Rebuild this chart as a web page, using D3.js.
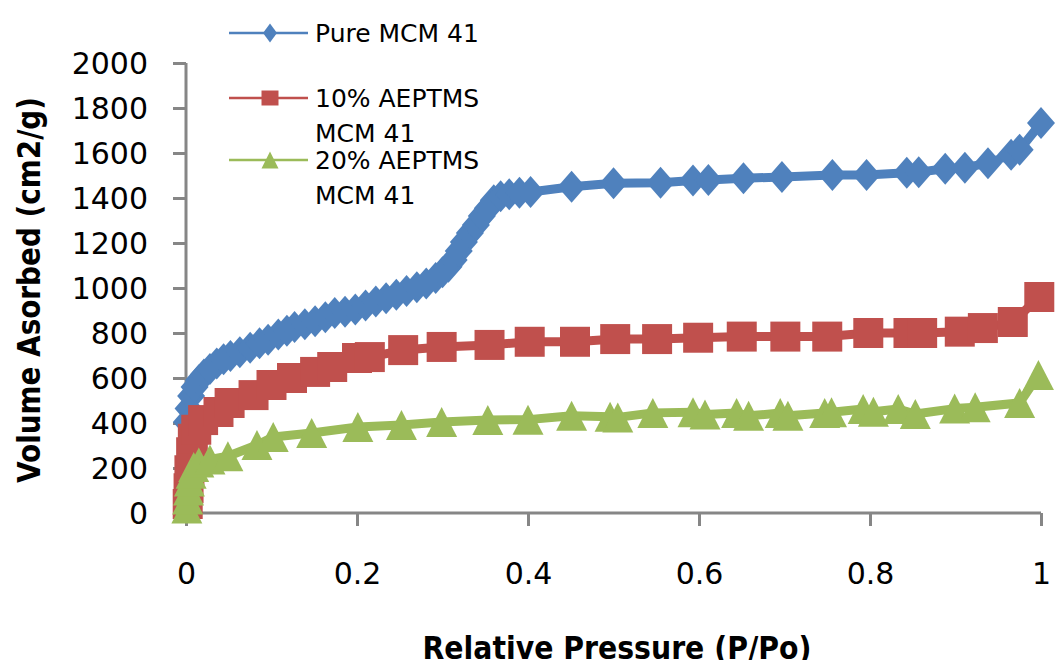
<!DOCTYPE html>
<html>
<head>
<meta charset="utf-8">
<script src="https://cdn.jsdelivr.net/npm/d3@7"></script>
<style>
  html, body { margin: 0; padding: 0; background: #fff; }
  svg { display: block; font-family: "DejaVu Sans", Verdana, sans-serif; }
</style>
</head>
<body>
<svg id="chart" width="1062" height="660"></svg>
<script>
// Nitrogen isotherm data: [relative pressure, volume]
const pureMCM41 = [
  [0.001, 405], [0.003, 465], [0.006, 520], [0.01, 560], [0.015, 590], [0.021, 616],
  [0.028, 640], [0.036, 664], [0.044, 683], [0.052, 698], [0.063, 715], [0.075, 735],
  [0.086, 754], [0.096, 770], [0.108, 793], [0.118, 810], [0.127, 827], [0.139, 839],
  [0.151, 852], [0.163, 870], [0.174, 889], [0.186, 895], [0.198, 905], [0.21, 922],
  [0.222, 940], [0.234, 955], [0.246, 970], [0.258, 987], [0.27, 1003], [0.281, 1020],
  [0.292, 1045], [0.3, 1070], [0.307, 1095], [0.313, 1125], [0.319, 1165], [0.325, 1205],
  [0.332, 1245], [0.339, 1280], [0.346, 1320], [0.353, 1355], [0.36, 1390], [0.368, 1408],
  [0.378, 1417], [0.39, 1423], [0.403, 1427], [0.451, 1450], [0.5, 1466], [0.555, 1468],
  [0.593, 1478], [0.611, 1480], [0.652, 1488], [0.697, 1493], [0.756, 1502], [0.796, 1502],
  [0.843, 1512], [0.857, 1515], [0.888, 1530], [0.911, 1535], [0.938, 1555], [0.965, 1592],
  [0.975, 1615], [1.0, 1733]
]
const aeptms10 = [
  [0.002, 40], [0.003, 110], [0.004, 190], [0.006, 270], [0.008, 330], [0.012, 370],
  [0.02, 413], [0.038, 449], [0.051, 489], [0.079, 524], [0.1, 569], [0.124, 600],
  [0.151, 627], [0.171, 649], [0.2, 689], [0.215, 693], [0.254, 724], [0.299, 738],
  [0.355, 747], [0.402, 761], [0.455, 761], [0.502, 773], [0.551, 773], [0.599, 779],
  [0.65, 784], [0.701, 784], [0.75, 784], [0.798, 800], [0.845, 800], [0.861, 800],
  [0.905, 806], [0.932, 822], [0.967, 849], [0.998, 960]
]
const aeptms20 = [
  [0.001, 20], [0.002, 60], [0.003, 100], [0.004, 140], [0.006, 175], [0.009, 205],
  [0.015, 225], [0.028, 238], [0.049, 252], [0.083, 302], [0.102, 338], [0.147, 356],
  [0.201, 382], [0.252, 391], [0.299, 404], [0.353, 413], [0.4, 415], [0.451, 432],
  [0.496, 428], [0.505, 425], [0.546, 445], [0.593, 448], [0.607, 438], [0.644, 444],
  [0.658, 432], [0.695, 444], [0.704, 432], [0.747, 444], [0.755, 448], [0.792, 462],
  [0.804, 450], [0.833, 462], [0.853, 440], [0.899, 464], [0.923, 470], [0.975, 489],
  [0.997, 613]
]

const seriesNames = ["Pure MCM 41", "10% AEPTMS MCM 41", "20% AEPTMS MCM 41"]
const seriesColors = ["#4F81BD", "#C0504D", "#9BBB59"]
const xTicks = [0, 0.2, 0.4, 0.6, 0.8, 1]
const yTicks = [0, 200, 400, 600, 800, 1000, 1200, 1400, 1600, 1800, 2000]

const svg = d3.select("#chart")
const axisGray = "#868686"

// Plot area bounds
const plot = { left: 186, right: 1041, top: 63, bottom: 513 }

const x = d3.scaleLinear().domain([0, 1]).range([plot.left, plot.right])
const y = d3.scaleLinear().domain([0, 2000]).range([plot.bottom, plot.top])

// Marker shapes, as path strings centred on 0,0 (w = half width, h = half height)
const diamond = (w, h) => `M0,${-h}L${w},0L0,${h}L${-w},0Z`
const square = (w, h) => `M${-w},${-h}H${w}V${h}H${-w}Z`
const triangle = (w, h) => `M0,${-h}L${w},${h}L${-w},${h}Z`

const series = [
  { name: seriesNames[0], data: pureMCM41, color: seriesColors[0], shape: diamond, big: [14, 16], small: [7, 9.5] },
  { name: seriesNames[1], data: aeptms10, color: seriesColors[1], shape: square, big: [15, 15], small: [8.5, 7.5] },
  { name: seriesNames[2], data: aeptms20, color: seriesColors[2], shape: triangle, big: [15.5, 15], small: [8.5, 8.5] }
]

// Y axis
const yAxis = svg.append("g")
  .attr("transform", `translate(${plot.left},0)`)
  .call(d3.axisLeft(y).tickValues(yTicks).tickSize(13).tickPadding(25).tickFormat(d3.format("d")))
yAxis.select(".domain").attr("stroke", axisGray).attr("stroke-width", 3)
  .attr("d", `M0,${plot.top}V${plot.bottom}`)
yAxis.selectAll(".tick line").attr("stroke", axisGray).attr("stroke-width", 3)
yAxis.selectAll(".tick text")
  .attr("fill", "#000").attr("font-size", 30).attr("dy", "0.36em")
  .style("font-family", "DejaVu Sans")

// X axis
const xAxis = svg.append("g")
  .attr("transform", `translate(0,${plot.bottom})`)
  .call(d3.axisBottom(x).tickValues(xTicks).tickSize(13).tickFormat(d3.format("")))
xAxis.select(".domain").attr("stroke", axisGray).attr("stroke-width", 3)
  .attr("d", `M${plot.left},0H${plot.right}`)
xAxis.selectAll(".tick line").attr("stroke", axisGray).attr("stroke-width", 3)
xAxis.selectAll(".tick text")
  .attr("fill", "#000").attr("font-size", 30).attr("y", 71).attr("dy", 0)
  .style("font-family", "DejaVu Sans")

// Series: line first, then the markers on top, in Excel's drawing order
const line = d3.line().x(d => x(d[0])).y(d => y(d[1]))
series.forEach(s => {
  const g = svg.append("g")
  g.append("path")
    .datum(s.data)
    .attr("d", line)
    .attr("fill", "none")
    .attr("stroke", s.color)
    .attr("stroke-width", 9)
    .attr("stroke-linejoin", "round")
  g.selectAll("path.marker")
    .data(s.data)
    .enter()
    .append("path")
    .attr("class", "marker")
    .attr("transform", d => `translate(${x(d[0])},${y(d[1])})`)
    .attr("d", s.shape(...s.big))
    .attr("fill", s.color)
})

// Legend (top, inside the figure)
const legendRows = [
  { y: 33, lines: ["Pure MCM 41"] },
  { y: 98, lines: ["10% AEPTMS", "MCM 41"] },
  { y: 160, lines: ["20% AEPTMS", "MCM 41"] }
]
legendRows.forEach((row, i) => {
  const s = series[i]
  const g = svg.append("g").attr("transform", `translate(0,${row.y})`)
  g.append("line")
    .attr("x1", 229).attr("x2", 308).attr("y1", 0).attr("y2", 0)
    .attr("stroke", s.color).attr("stroke-width", 2.5)
  g.append("path")
    .attr("transform", "translate(270,0)")
    .attr("d", s.shape(...s.small))
    .attr("fill", s.color)
  g.selectAll("text")
    .data(row.lines)
    .enter()
    .append("text")
    .attr("x", 315)
    .attr("y", (d, j) => j * 34.5 + 9)
    .attr("font-size", 25)
    .attr("fill", "#000")
    .text(d => d)
})

// Axis titles
svg.append("text")
  .attr("transform", "translate(40,290) rotate(-90)")
  .attr("text-anchor", "middle")
  .attr("font-size", 32)
  .attr("font-weight", "bold")
  .attr("textLength", 386)
  .attr("lengthAdjust", "spacingAndGlyphs")
  .text("Volume Asorbed (cm2/g)")

svg.append("text")
  .attr("x", 617)
  .attr("y", 659)
  .attr("text-anchor", "middle")
  .attr("font-size", 32)
  .attr("font-weight", "bold")
  .attr("textLength", 389)
  .attr("lengthAdjust", "spacingAndGlyphs")
  .text("Relative Pressure (P/Po)")
</script>
</body>
</html>
